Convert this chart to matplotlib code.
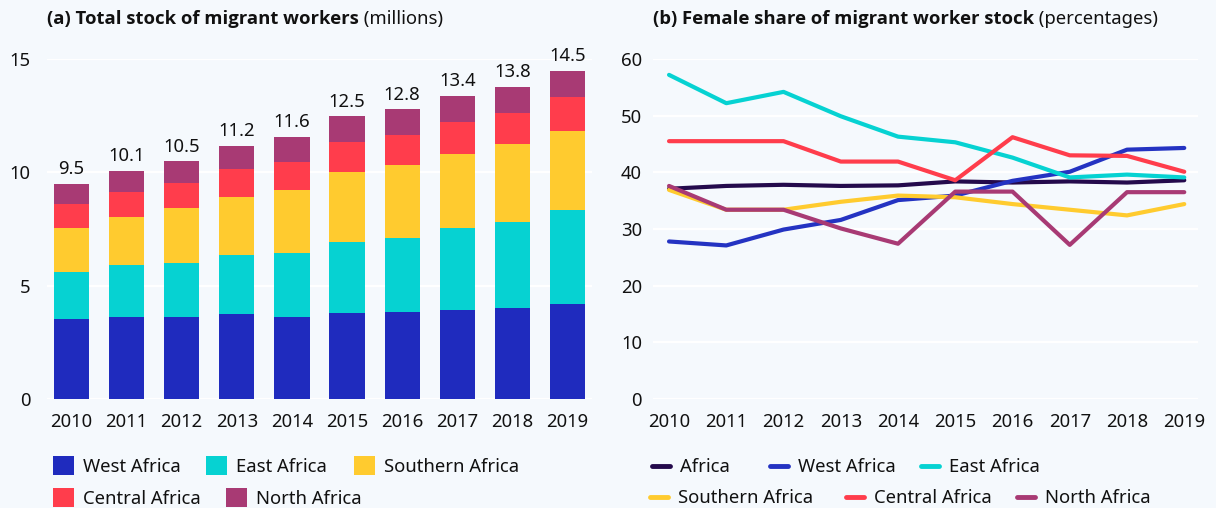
import numpy as np
import matplotlib
matplotlib.use("Agg")
import matplotlib.pyplot as plt
from matplotlib.patches import Patch
from matplotlib.lines import Line2D

plt.rcParams['font.family'] = ['Noto Sans', 'DejaVu Sans']

# ---- data ----
years = [2010, 2011, 2012, 2013, 2014, 2015, 2016, 2017, 2018, 2019]
regions = ['West Africa', 'East Africa', 'Southern Africa', 'Central Africa', 'North Africa']

# (a) stock in millions, stacked
west_stock = [3.53, 3.62, 3.62, 3.76, 3.62, 3.79, 3.84, 3.93, 4.01, 4.19]
east_stock = [2.09, 2.29, 2.38, 2.59, 2.82, 3.14, 3.26, 3.61, 3.80, 4.15]
south_stock = [1.92, 2.12, 2.43, 2.56, 2.78, 3.08, 3.22, 3.27, 3.44, 3.48]
central_stock = [1.06, 1.10, 1.10, 1.24, 1.23, 1.33, 1.33, 1.42, 1.37, 1.50]
north_stock = [0.90, 0.93, 0.95, 1.01, 1.11, 1.14, 1.14, 1.15, 1.15, 1.16]
totals = [9.5, 10.1, 10.5, 11.2, 11.6, 12.5, 12.8, 13.4, 13.8, 14.5]

# (b) female share, percent
africa_share = [37.1, 37.6, 37.8, 37.6, 37.7, 38.4, 38.2, 38.4, 38.2, 38.6]
west_share = [27.8, 27.1, 29.9, 31.6, 35.1, 35.9, 38.5, 40.1, 44.0, 44.3]
east_share = [57.2, 52.2, 54.2, 49.9, 46.3, 45.3, 42.6, 39.1, 39.6, 39.1]
south_share = [36.9, 33.4, 33.4, 34.8, 35.9, 35.6, 34.4, 33.4, 32.4, 34.4]
central_share = [45.5, 45.5, 45.5, 41.9, 41.9, 38.6, 46.2, 43.0, 42.9, 40.1]
north_share = [37.6, 33.4, 33.4, 30.1, 27.4, 36.6, 36.6, 27.2, 36.5, 36.5]

bg = '#F5F9FD'
c_west = '#1F2BBE'
c_east = '#06D2D2'
c_south = '#FFCB2F'
c_central = '#FF3D4C'
c_north = '#A83A74'
c_africa = '#240A4C'
txt = '#111111'
fs = 13.3

W, H = 1216, 508
fig = plt.figure(figsize=(W/100, H/100), dpi=100, facecolor=bg)
axL = fig.add_axes([47/W, 109/H, 545/W, 340/H], facecolor=bg)
axR = fig.add_axes([653/W, 109/H, 545/W, 340/H], facecolor=bg)

for ax in (axL, axR):
    for s in ax.spines.values():
        s.set_visible(False)
    ax.tick_params(length=0, labelsize=fs, colors=txt)
    ax.grid(axis='y', color='white', lw=1.6)
    ax.set_axisbelow(True)

# ---- (a) stacked bars ----
x = np.arange(len(years))
stacks = [west_stock, east_stock, south_stock, central_stock, north_stock]
cols = [c_west, c_east, c_south, c_central, c_north]
bottom = np.zeros(len(years))
for vals, c in zip(stacks, cols):
    bars = axL.bar(x, vals, 0.64, bottom=bottom, color=c, zorder=2)
    bottom += np.array(vals)
axL.bar_label(bars, labels=[f'{t:.1f}' for t in totals], padding=4, fontsize=fs, color=txt)
axL.set_xlim(-0.445, 9.445)
axL.set_ylim(0, 15)
axL.set_yticks([0, 5, 10, 15])
axL.set_xticks(x)
axL.set_xticklabels([str(y) for y in years])
axL.tick_params(axis='y', pad=12)
axL.tick_params(axis='x', pad=10)

# ---- (b) lines ----
shares = [africa_share, west_share, east_share, south_share, central_share, north_share]
line_cols = [c_africa, '#2433C2', c_east, c_south, c_central, c_north]
line_names = ['Africa'] + regions
for vals, c in zip(shares, line_cols):
    axR.plot(years, vals, color=c, lw=3, solid_capstyle='round', solid_joinstyle='round', zorder=2)
axR.set_xlim(2009.72, 2019.24)
axR.set_ylim(0, 60)
axR.set_yticks(range(0, 61, 10))
axR.set_xticks(years)
axR.tick_params(axis='y', pad=8)
axR.tick_params(axis='x', pad=10)

# ---- titles: bold part + regular unit ----
bold = dict(fontsize=fs, fontweight='bold', family=['Open Sans', 'DejaVu Sans'], color=txt)
tA = fig.text(47/W, 1 - 19/H, '(a) Total stock of migrant workers', va='center', ha='left', **bold)
axL.annotate(' (millions)', xy=(1, 0), xycoords=tA, va='bottom', ha='left',
             fontsize=fs, color=txt, annotation_clip=False)
tB = fig.text(653/W, 1 - 19/H, '(b) Female share of migrant worker stock', va='center', ha='left', **bold)
axR.annotate(' (percentages)', xy=(1, 0), xycoords=tB, va='bottom', ha='left',
             fontsize=fs, color=txt, annotation_clip=False)

# ---- legends: one entry each, flowed like the original ----
leg_kw = dict(frameon=False, fontsize=fs, borderpad=0, borderaxespad=0,
              labelcolor=txt, loc='center left')

sq_pos = [(53, 466), (206, 466), (354, 466), (53, 498), (226, 498)]
for c, name, (px, py) in zip(cols, regions, sq_pos):
    fig.legend([Patch(facecolor=c, edgecolor='none')], [name],
               bbox_to_anchor=(px/W, 1 - py/H), handlelength=1.15, handleheight=1.15,
               handletextpad=0.5, **leg_kw)

ln_pos = [(652, 467), (770, 467), (921, 467), (650, 498), (846, 498), (1017, 498)]
for c, name, (px, py) in zip(line_cols, line_names, ln_pos):
    fig.legend([Line2D([], [], color=c, lw=3.5, solid_capstyle='round')], [name],
               bbox_to_anchor=(px/W, 1 - py/H), handlelength=1.0,
               handletextpad=0.5, **leg_kw)

fig.savefig('out.png', dpi=100, facecolor=bg)
